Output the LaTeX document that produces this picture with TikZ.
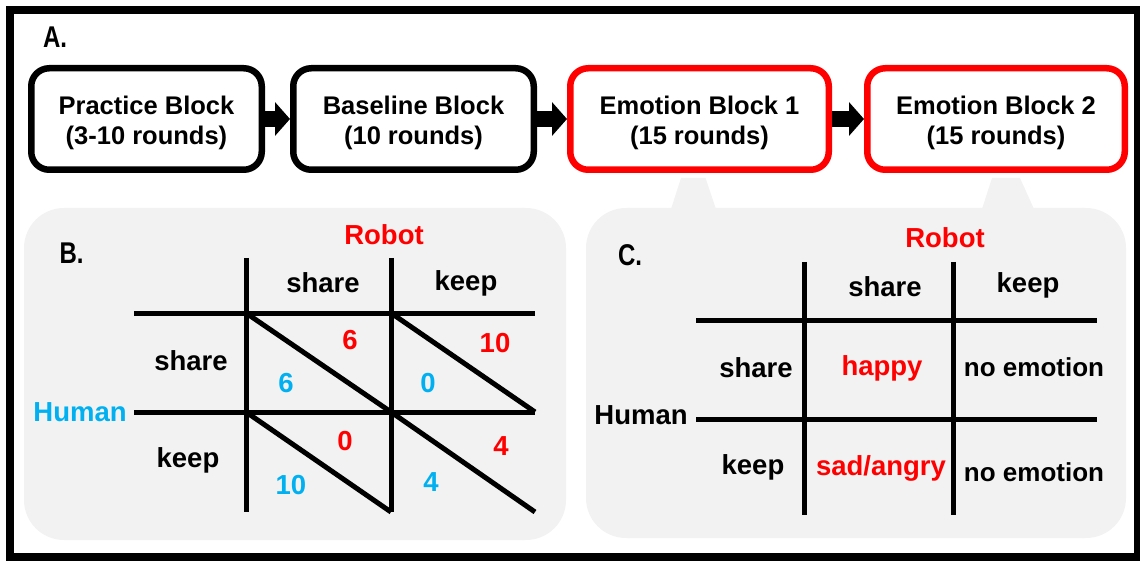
\documentclass[tikz,border=0pt]{standalone}
\usepackage{fontspec}
\setmainfont{Liberation Sans}
\usetikzlibrary{arrows.meta}
\definecolor{rred}{RGB}{255,0,0}
\definecolor{hblue}{RGB}{0,176,240}
\definecolor{panelgray}{RGB}{242,242,242}
\begin{document}
\begin{tikzpicture}[x=1pt,y=-1pt,
  blk/.style={draw=black, line width=6.5pt, rounded corners=18pt, fill=white,
    inner sep=0pt, minimum height=101.5pt},
  redblk/.style={blk, draw=rred},
  blktext/.style={align=center, font=\fontsize{25.5}{30}\selectfont\bfseries, inner sep=0pt},
  flow/.style={-{Triangle[length=15pt,width=33pt]}, line width=16pt},
  lbl/.style={font=\fontsize{27.5}{33}\selectfont\bfseries, inner sep=0pt},
  small lbl/.style={font=\fontsize{26}{31}\selectfont\bfseries, inner sep=0pt},
  gridline/.style={line width=5pt},
  letter/.style={font=\fontsize{30}{35}\selectfont\bfseries, inner sep=0pt},
  panel/.style={fill=panelgray, rounded corners=40pt}
]
\useasboundingbox (0,0) rectangle (1140,561);
% outer frame
\draw[line width=8pt] (9.5,10.5) rectangle (1138,557);

% panels and callouts
\fill[panel] (24,208) rectangle (566,540);
\fill[panel] (586,208) rectangle (1126,538);
\fill[panelgray] (671,209) -- (681,178) -- (705.5,178) -- (716,209) -- cycle;
\fill[panelgray] (982,209) -- (992,178) -- (1020,178) -- (1034,209) -- cycle;

% label A
\node[letter] (la) at (55,37.5) {\scalebox{0.8}[1]{A.}};

% flow boxes
\node[blk, minimum width=230.5pt] (p) at (146.5,119) {};
\node[blk, minimum width=240.5pt] (b) at (413.5,119) {};
\node[redblk, minimum width=258.5pt] (e1) at (699.5,119) {};
\node[redblk, minimum width=257.5pt] (e2) at (996,119) {};
\node[blktext] (pt) at (146.5,123) {Practice Block\\(3-10 rounds)};
\node[blktext] (bt) at (413.5,123) {Baseline Block\\(10 rounds)};
\node[blktext] (e1t) at (699.5,123) {Emotion Block 1\\(15 rounds)};
\node[blktext] (e2t) at (996,123) {Emotion Block 2\\(15 rounds)};
\draw[flow] (p.east) -- (b.west);
\draw[flow] (b.east) -- (e1.west);
\draw[flow] (e1.east) -- (e2.west);

% ---------- panel B ----------
\node[letter] (lb) at (71.5,253.5) {\scalebox{0.8}[1]{B.}};
\node[lbl, text=rred] (rb) at (384,235) {Robot};
\draw[gridline] (246,258) -- (246,512);
\draw[gridline] (391,258) -- (391,512);
\draw[gridline] (134,313) -- (535,313);
\draw[gridline] (134,412) -- (535,412);
\draw[gridline] (246,313) -- (391,412);
\draw[gridline] (391,313) -- (535,412);
\draw[gridline] (246,412) -- (391,512);
\draw[gridline] (391,412) -- (535,512);
\node[lbl] (bcs) at (323,283) {share};
\node[lbl] (bck) at (466,283) {keep};
\node[lbl] (brs) at (191,361) {share};
\node[lbl] (brk) at (188,460) {keep};
\node[lbl, text=hblue] (hb) at (80,412) {Human};
\node[lbl, text=rred] (n1) at (350,340) {6};
\node[lbl, text=hblue] (n2) at (286,383) {6};
\node[lbl, text=rred] (n3) at (495,343) {10};
\node[lbl, text=hblue] (n4) at (428,383) {0};
\node[lbl, text=rred] (n5) at (345,441) {0};
\node[lbl, text=hblue] (n6) at (291,485) {10};
\node[lbl, text=rred] (n7) at (501,446) {4};
\node[lbl, text=hblue] (n8) at (431,482) {4};

% ---------- panel C ----------
\node[letter] (lc) at (630,255) {\scalebox{0.8}[1]{C.}};
\node[lbl, text=rred] (rc) at (945,238) {Robot};
\draw[gridline] (804,262) -- (804,515);
\draw[gridline] (953,262) -- (953,515);
\draw[gridline] (696,320) -- (1097,320);
\draw[gridline] (696,419) -- (1097,419);
\node[lbl] (ccs) at (885,287) {share};
\node[lbl] (cck) at (1028,285) {keep};
\node[lbl] (crs) at (756,368) {share};
\node[lbl] (crk) at (753,467) {keep};
\node[lbl] (hc) at (641,415) {Human};
\node[lbl, text=rred] (hap) at (882,368) {happy};
\node[small lbl] (ne1) at (1034,367) {no emotion};
\node[lbl, text=rred] (sad) at (881,468) {sad/angry};
\node[small lbl] (ne2) at (1034,472) {no emotion};
\end{tikzpicture}
\end{document}
